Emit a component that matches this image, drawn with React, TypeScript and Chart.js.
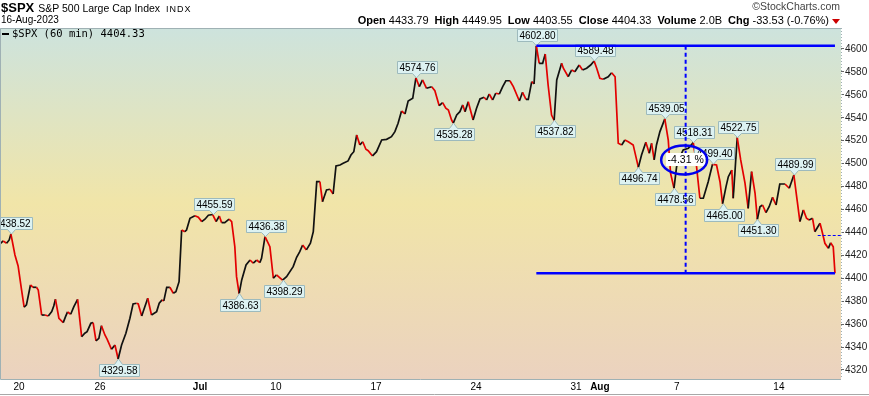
import React, { useEffect, useRef } from 'react';
import { Chart, registerables } from 'chart.js';

Chart.register(...registerables);

// ---- data (hourly bars, index 0 = first bar of 16-Jun-2023) ----
const barIndex = [
  -1.0, 0.1, 1.3, 2.2, 2.8, 4.2, 5.3, 6.5, 7.4, 8.2, 9.6, 10.5, 11.7, 12.3, 13.5, 14.6, 15.8, 17.0, 17.7, 18.3,
  19.5, 21.0, 21.8, 22.5, 23.6, 24.7, 26.0, 27.4, 28.5, 29.3, 30.6, 31.4, 32.4, 33.4, 34.3, 35.5, 36.3, 37.8, 39.0, 40.1,
  41.3, 42.8, 44.2, 45.3, 46.5, 47.1, 48.3, 50.4, 51.7, 53.5, 54.4, 55.4, 56.0, 57.0, 58.1, 59.3, 60.2, 61.3, 62.2, 63.3,
  63.9, 65.1, 66.8, 68.0, 69.2, 70.3, 71.5, 73.0, 74.2, 75.3, 76.1, 77.2, 78.7, 79.6, 80.7, 81.3, 82.2, 83.1, 84.6, 86.0,
  87.1, 88.3, 89.4, 90.0, 91.2, 92.9, 94.1, 95.2, 97.3, 98.7, 101.0, 102.2, 103.3, 104.3, 105.6, 107.0, 108.0, 109.2, 110.3, 111.2,
  112.6, 113.8, 114.9, 115.9, 117.3, 118.4, 120.1, 121.1, 122.1, 123.1, 124.2, 125.2, 126.3, 127.1, 128.6, 130.0, 131.8, 133.5, 135.2, 136.4,
  137.5, 138.7, 139.9, 141.0, 142.6, 143.7, 144.9, 146.0, 147.4, 149.2, 150.3, 151.8, 153.0, 154.1, 155.0, 156.1, 156.7, 157.9, 159.0, 160.0,
  160.8, 161.9, 163.6, 164.8, 166.0, 167.4, 168.3, 169.2, 170.4, 171.5, 172.7, 173.9, 175.0, 176.4, 177.6, 179.7, 180.8, 182.0, 182.8, 184.0,
  184.8, 185.6, 186.6, 187.8, 188.7, 189.7, 190.9, 191.8, 192.7, 194.4, 195.0, 196.7, 197.9, 199.0, 200.5, 201.7, 203.1, 204.5, 205.7, 206.6,
  207.7, 208.9, 210.6, 211.8, 213.0, 214.1, 215.3, 216.4, 217.6, 219.3, 221.1, 222.2, 223.7, 224.9, 225.7, 226.6, 227.4, 228.6, 230.3, 231.5,
  232.3, 233.5, 234.4, 235.6, 236.7, 238.5, 240.2, 241.1, 242.5, 243.7, 245.4, 246.9, 248.3, 249.5, 250.4, 251.6, 252.4, 253.6, 254.1, 255.5,
  256.7, 258.2, 259.3, 260.5, 261.7, 262.5, 263.4, 264.3, 265.5, 266.6, 267.8, 269.0, 270.3, 272.1, 273.6, 275.2, 276.4, 277.3, 278.5, 279.6,
  280.5, 281.7, 282.5, 284.3, 284.9, 286.0, 287.2, 288.0, 288.9, 289.5,
];

const closes = [
  4429.9, 4432.5, 4430.5, 4433.4, 4438.52, 4420.3, 4410.7, 4389.8, 4374.7, 4376.7, 4394.1, 4392.1, 4392.1, 4389.8, 4367.9, 4367.9, 4367.1, 4370.9, 4375.8, 4381.6,
  4365.1, 4361.3, 4366.5, 4370.6, 4368.6, 4375.2, 4381.6, 4349.0, 4352.0, 4353.4, 4360.7, 4361.3, 4345.3, 4347.6, 4358.6, 4350.5, 4346.7, 4338.0, 4341.8, 4329.58,
  4341.8, 4352.0, 4365.1, 4377.6, 4378.2, 4377.6, 4367.1, 4382.5, 4367.9, 4370.9, 4378.2, 4381.1, 4380.2, 4392.1, 4392.1, 4386.9, 4388.3, 4397.0, 4442.1, 4440.6,
  4442.1, 4452.3, 4454.5, 4453.2, 4449.4, 4451.5, 4455.0, 4455.59, 4449.4, 4454.3, 4448.5, 4448.5, 4451.5, 4449.4, 4427.5, 4401.4, 4386.63, 4398.5, 4411.6, 4415.9,
  4413.1, 4415.9, 4413.6, 4417.4, 4436.38, 4427.5, 4400.0, 4402.9, 4398.29, 4401.4, 4410.1, 4418.3, 4423.2, 4429.0, 4424.7, 4430.5, 4440.6, 4484.2, 4484.2, 4466.8,
  4477.0, 4477.6, 4473.5, 4497.9, 4498.8, 4500.3, 4502.3, 4507.5, 4510.4, 4525.0, 4516.3, 4519.1, 4512.5, 4511.3, 4506.7, 4510.4, 4520.6, 4521.2, 4523.5, 4527.9,
  4535.2, 4545.9, 4543.3, 4554.6, 4557.0, 4574.76, 4567.1, 4573.0, 4565.7, 4567.1, 4563.6, 4550.5, 4553.2, 4548.3, 4546.8, 4538.1, 4535.28, 4542.4, 4545.3, 4551.2,
  4545.3, 4554.0, 4538.1, 4548.3, 4556.4, 4557.9, 4555.5, 4560.7, 4555.5, 4561.4, 4560.7, 4567.1, 4572.3, 4572.3, 4567.1, 4554.6, 4562.2, 4556.1, 4556.1, 4571.5,
  4569.5, 4602.80, 4587.5, 4587.5, 4595.6, 4568.6, 4542.4, 4537.82, 4573.0, 4587.5, 4583.2, 4575.8, 4581.7, 4580.2, 4586.0, 4581.7, 4583.2, 4586.0, 4589.48, 4583.2,
  4574.4, 4573.6, 4575.8, 4579.3, 4575.8, 4517.7, 4516.3, 4520.6, 4519.1, 4516.3, 4496.74, 4507.5, 4518.6, 4509.0, 4517.7, 4503.2, 4516.3, 4527.9, 4539.05, 4520.6,
  4491.6, 4478.56, 4497.3, 4506.1, 4511.9, 4513.4, 4518.31, 4503.2, 4469.8, 4469.8, 4484.2, 4499.40, 4498.8, 4484.2, 4465.00, 4479.9, 4488.6, 4494.4, 4469.8, 4522.75,
  4503.2, 4482.9, 4461.0, 4493.0, 4474.1, 4451.30, 4462.4, 4463.9, 4457.2, 4462.4, 4470.6, 4463.9, 4482.2, 4482.2, 4478.5, 4489.99, 4466.8, 4449.4, 4459.6, 4452.3,
  4450.8, 4452.3, 4440.6, 4448.0, 4442.1, 4430.5, 4426.1, 4431.0, 4427.5, 4404.33,
];

// x-axis labels (bar index where each labelled day begins)
const xTickIdx = [5.6, 33.8, 68.6, 95.0, 129.8, 164.6, 199.4, 207.7, 234.5, 270.0];
const xTickLabels = ['20', '26', 'Jul', '10', '17', '24', '31', 'Aug', '7', '14'];
const xTickBold = [false, false, true, false, false, false, false, true, false, false];

const yTicks = [4320, 4340, 4360, 4380, 4400, 4420, 4440, 4460, 4480, 4500, 4520, 4540, 4560, 4580, 4600];

// swing-point price labels
const noteIdx = [2.8, 40.1, 73.0, 82.2, 91.2, 97.3, 143.7, 156.7, 185.6, 191.8, 205.7, 221.1, 230.3, 233.5, 240.2, 246.9, 250.4, 255.5, 262.5, 275.2];
const noteValue = [4438.52, 4329.58, 4455.59, 4386.63, 4436.38, 4398.29, 4574.76, 4535.28, 4602.80, 4537.82, 4589.48, 4496.74, 4539.05, 4478.56, 4518.31, 4499.40, 4465.00, 4522.75, 4451.30, 4489.99];
const noteAbove = [true, false, true, false, true, false, true, false, true, false, true, false, true, false, true, true, false, true, false, true];

// measurement tool
const measureStartIdx = 185.6;
const measureEndIdx = 289.5;
const measureHigh = 4602.80;
const measureLow = 4404.33;
const prevClose = 4437.86;
const prevCloseStartIdx = 283.5;

// header
const headerStats = [
  ['Open', '4433.79'],
  ['High', '4449.95'],
  ['Low', '4403.55'],
  ['Close', '4404.33'],
  ['Volume', '2.0B'],
  ['Chg', '-33.53 (-0.76%)'],
];

const FAM = '"Liberation Sans", Arial, sans-serif';

const bgPlugin = {
  id: 'bgPlugin',
  beforeDraw(chart: any) {
    const { ctx, chartArea: a } = chart;
    ctx.save();
    const g = ctx.createLinearGradient(0, a.top, 0, a.bottom);
    g.addColorStop(0, '#cde3dd');
    g.addColorStop(0.5, '#f1e5a8');
    g.addColorStop(1, '#ebd2bf');
    ctx.fillStyle = g;
    ctx.fillRect(a.left, a.top, a.right - a.left, a.bottom - a.top);
    ctx.restore();
  },
  afterDraw(chart: any) {
    const { ctx, chartArea: a } = chart;
    ctx.save();
    ctx.strokeStyle = '#9fb1b4';
    ctx.lineWidth = 1;
    ctx.beginPath();
    ctx.moveTo(a.right, a.top + 0.5);
    ctx.lineTo(a.left + 0.5, a.top + 0.5);
    ctx.lineTo(a.left + 0.5, a.bottom + 0.5);
    ctx.lineTo(a.right, a.bottom + 0.5);
    ctx.stroke();
    ctx.setLineDash([1, 2]);
    ctx.beginPath();
    ctx.moveTo(a.right + 0.5, a.top);
    ctx.lineTo(a.right + 0.5, a.bottom);
    ctx.stroke();
    ctx.setLineDash([]);
    ctx.strokeStyle = '#a8a8a8';
    ctx.beginPath();
    ctx.moveTo(0, chart.height - 1.5);
    ctx.lineTo(chart.width, chart.height - 1.5);
    ctx.stroke();
    ctx.restore();
  },
};

const notesPlugin = {
  id: 'notesPlugin',
  afterDatasetsDraw(chart: any) {
    const { ctx, chartArea: a } = chart;
    const xs = chart.scales.x;
    const ys = chart.scales.y;
    ctx.save();
    ctx.beginPath();
    ctx.rect(a.left, a.top, a.right - a.left, a.bottom - a.top);
    ctx.clip();

    // price labels
    ctx.font = `10px ${FAM}`;
    ctx.textAlign = 'center';
    ctx.textBaseline = 'middle';
    ctx.lineWidth = 1;
    noteIdx.forEach((ix, i) => {
      const px = Math.round(xs.getPixelForValue(ix)) + 0.5;
      const py = ys.getPixelForValue(noteValue[i]);
      const txt = noteValue[i].toFixed(2);
      const w = Math.round(ctx.measureText(txt).width + 4);
      const h = 12;
      const gap = 5;
      const half = 4;
      const l = Math.round(px - w / 2) + 0.5;
      const r = l + w;
      ctx.beginPath();
      let t: number;
      if (noteAbove[i]) {
        const b = Math.round(py - gap) + 0.5;
        t = b - h;
        ctx.moveTo(l, t);
        ctx.lineTo(r, t);
        ctx.lineTo(r, b);
        ctx.lineTo(px + half, b);
        ctx.lineTo(px, py);
        ctx.lineTo(px - half, b);
        ctx.lineTo(l, b);
      } else {
        t = Math.round(py + gap) + 0.5;
        const b = t + h;
        ctx.moveTo(l, t);
        ctx.lineTo(px - half, t);
        ctx.lineTo(px, py);
        ctx.lineTo(px + half, t);
        ctx.lineTo(r, t);
        ctx.lineTo(r, b);
        ctx.lineTo(l, b);
      }
      ctx.closePath();
      ctx.fillStyle = '#ddf2f2';
      ctx.fill();
      ctx.strokeStyle = '#9dbabd';
      ctx.stroke();
      ctx.fillStyle = '#000';
      ctx.fillText(txt, (l + r) / 2, t + h / 2 + 0.5);
    });

    // measurement lines
    const x1 = xs.getPixelForValue(measureStartIdx);
    const x2 = xs.getPixelForValue(measureEndIdx);
    const yH = ys.getPixelForValue(measureHigh);
    const yL = ys.getPixelForValue(measureLow);
    const xm = (x1 + x2) / 2;
    ctx.strokeStyle = '#0000ff';
    ctx.lineWidth = 2.5;
    ctx.beginPath();
    ctx.moveTo(x1, yH);
    ctx.lineTo(x2, yH);
    ctx.moveTo(x1, yL);
    ctx.lineTo(x2, yL);
    ctx.stroke();
    ctx.lineWidth = 2;
    ctx.setLineDash([4, 3]);
    ctx.beginPath();
    ctx.moveTo(xm, yH);
    ctx.lineTo(xm, yL);
    ctx.stroke();

    // previous close
    const yP = ys.getPixelForValue(prevClose);
    ctx.lineWidth = 1;
    ctx.setLineDash([3, 2]);
    ctx.beginPath();
    ctx.moveTo(xs.getPixelForValue(prevCloseStartIdx), Math.round(yP) + 0.5);
    ctx.lineTo(a.right, Math.round(yP) + 0.5);
    ctx.stroke();
    ctx.setLineDash([]);

    // percent change bubble
    const ym = (yH + yL) / 2;
    const pct = ((measureLow / measureHigh - 1) * 100).toFixed(2) + ' %';
    ctx.font = `10.5px ${FAM}`;
    const tw = ctx.measureText(pct).width + 3;
    ctx.fillStyle = '#ffffff';
    ctx.fillRect(xm - tw / 2, ym - 6.5, tw, 13);
    ctx.fillStyle = '#000';
    ctx.fillText(pct, xm, ym + 0.5);
    ctx.strokeStyle = '#0000ee';
    ctx.lineWidth = 2.5;
    ctx.beginPath();
    ctx.ellipse(xm - 1.5, ym + 0.5, 23, 14.5, 0, 0, Math.PI * 2);
    ctx.stroke();

    ctx.restore();
  },
};

export default function App() {
  const ref = useRef<HTMLCanvasElement>(null);

  useEffect(() => {
    document.body.style.margin = '0';
    const canvas = ref.current!;
    const points = barIndex.map((x, i) => ({ x, y: closes[i] }));
    const chart = new Chart(canvas, {
      type: 'line',
      data: {
        datasets: [
          {
            data: points,
            borderColor: '#111',
            borderWidth: 1.7,
            pointRadius: 0,
            tension: 0,
            segment: {
              borderColor: (c: any) => (c.p1.parsed.y < c.p0.parsed.y ? '#e30000' : '#111111'),
            },
          },
        ],
      },
      options: {
        responsive: false,
        animation: false,
        devicePixelRatio: 1,
        events: [],
        layout: { padding: { top: 28, left: 0, right: 0, bottom: 0 } },
        plugins: { legend: { display: false }, tooltip: { enabled: false } },
        scales: {
          x: {
            type: 'linear',
            min: -1,
            max: 291.6,
            grid: { display: false, drawTicks: false },
            border: { display: false },
            afterBuildTicks: (s: any) => {
              s.ticks = xTickIdx.map((v) => ({ value: v }));
            },
            afterFit: (s: any) => {
              s.height = 17;
            },
            ticks: {
              autoSkip: false,
              maxRotation: 0,
              minRotation: 0,
              padding: 2,
              color: '#000',
              font: (c: any) => ({ family: FAM, size: 10, weight: xTickBold[c.index] ? 'bold' : 'normal' }),
              callback: (_v: any, i: number) => xTickLabels[i],
            },
          },
          y: {
            type: 'linear',
            position: 'right',
            min: 4312.1,
            max: 4618.3,
            afterBuildTicks: (s: any) => {
              s.ticks = yTicks.map((v) => ({ value: v }));
            },
            afterFit: (s: any) => {
              s.width = 28;
            },
            grid: { drawOnChartArea: false, drawTicks: true, tickLength: 3, color: '#666' },
            border: { display: false },
            ticks: {
              padding: 1,
              color: '#222',
              font: { family: FAM, size: 10 },
              callback: (v: any) => String(v),
            },
          },
        },
      },
      plugins: [bgPlugin, notesPlugin],
    } as any);
    return () => chart.destroy();
  }, []);

  return (
    <div
      style={{
        position: 'relative',
        width: 869,
        height: 396,
        overflow: 'hidden',
        background: '#fff',
        fontFamily: FAM,
        color: '#000',
      }}
    >
      <canvas
        ref={ref}
        width={869}
        height={396}
        style={{ position: 'absolute', left: 0, top: 0, width: 869, height: 396 }}
      />
      <div style={{ position: 'absolute', left: 1, top: 0, whiteSpace: 'nowrap', lineHeight: '13px' }}>
        <span style={{ fontWeight: 'bold', fontSize: 13 }}>$SPX</span>
        <span style={{ fontSize: 10.5, marginLeft: 4 }}>S&amp;P 500 Large Cap Index</span>
        <span style={{ fontSize: 9, marginLeft: 6, letterSpacing: 1 }}>INDX</span>
      </div>
      <div style={{ position: 'absolute', left: 1, top: 14, fontSize: 10, lineHeight: '12px', whiteSpace: 'nowrap' }}>
        16-Aug-2023
      </div>
      <div
        style={{
          position: 'absolute',
          right: 29,
          top: 0,
          fontSize: 10.5,
          lineHeight: '12px',
          color: '#444',
          whiteSpace: 'nowrap',
        }}
      >
        ©StockCharts.com
      </div>
      <div
        style={{
          position: 'absolute',
          right: 29,
          top: 14,
          fontSize: 11,
          lineHeight: '12px',
          whiteSpace: 'nowrap',
        }}
      >
        {headerStats.map(([k, v], i) => (
          <span key={k} style={{ marginLeft: i === 0 ? 0 : 6 }}>
            <b>{k}</b> {v}
          </span>
        ))}
        <span
          style={{
            display: 'inline-block',
            width: 0,
            height: 0,
            borderLeft: '4px solid transparent',
            borderRight: '4px solid transparent',
            borderTop: '5px solid #cc0000',
            marginLeft: 3,
            verticalAlign: 'middle',
          }}
        />
      </div>
      <div
        style={{
          position: 'absolute',
          left: 2,
          top: 28,
          lineHeight: '11px',
          fontSize: 10.5,
          fontFamily: '"DejaVu Sans Mono", monospace',
          whiteSpace: 'nowrap',
        }}
      >
        <span
          style={{
            display: 'inline-block',
            width: 7,
            height: 2,
            background: '#000',
            verticalAlign: 'middle',
            marginRight: 3,
          }}
        />
        $SPX (60 min) 4404.33
      </div>
    </div>
  );
}
